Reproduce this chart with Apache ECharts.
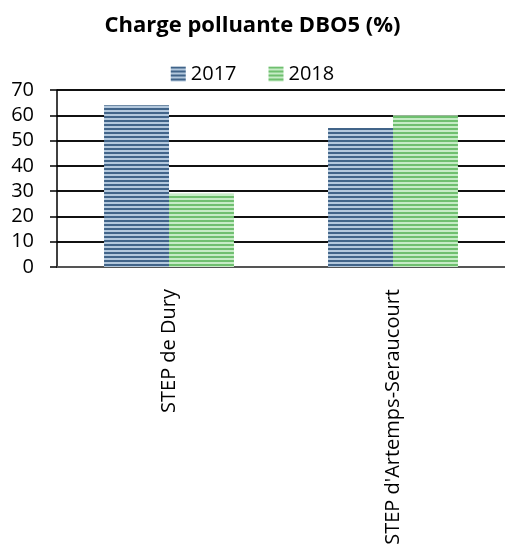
<!DOCTYPE html>
<html>
<head>
<meta charset="utf-8">
<script src="https://cdn.jsdelivr.net/npm/echarts@6/dist/echarts.min.js"></script>
<style>
  html, body { margin: 0; padding: 0; background: #fff; }
  #chart { width: 505px; height: 556px; }
</style>
</head>
<body>
<div id="chart"></div>
<script>
const categories = ['STEP de Dury', "STEP d'Artemps-Seraucourt"];
const seriesNames = ['2017', '2018'];
const values2017 = [64, 55];
const values2018 = [29, 60];
const yTicks = [0, 10, 20, 30, 40, 50, 60, 70];

// Horizontal striped fill used for the bars and legend icons
function stripes(dark, light) {
  const c = document.createElement('canvas');
  c.width = 8; c.height = 4;
  const g = c.getContext('2d');
  g.fillStyle = light; g.fillRect(0, 0, 8, 4);
  g.fillStyle = dark; g.fillRect(0, 0, 8, 2);
  return { image: c, repeat: 'repeat' };
}
const blueFill = stripes('#416489', '#b3c8dd');
const greenFill = stripes('#6fbf6f', '#c6ecc6');

const font = '"Open Sans", "Liberation Sans", sans-serif';
const chart = echarts.init(document.getElementById('chart'), null, { renderer: 'canvas' });
chart.setOption({
  animation: false,
  title: {
    text: 'Charge polluante DBO5 (%)',
    left: 'center', top: 10,
    textStyle: { fontFamily: font, fontWeight: 'bold', fontSize: 22, color: '#000' }
  },
  legend: {
    data: seriesNames,
    top: 59, left: 'center',
    itemWidth: 15, itemHeight: 15, itemGap: 32,
    icon: 'rect',
    textStyle: { fontFamily: font, fontSize: 20, color: '#000' }
  },
  grid: { left: 57, right: 0, top: 90, bottom: 289, containLabel: false },
  xAxis: {
    type: 'category',
    data: categories,
    axisLine: { lineStyle: { color: '#555', width: 2 } },
    axisTick: { show: false },
    axisLabel: { rotate: 90, margin: 22, fontFamily: font, fontSize: 20, color: '#000' }
  },
  yAxis: {
    type: 'value',
    min: 0, max: 70, interval: 10,
    axisLine: { show: true, lineStyle: { color: '#000', width: 1.5 } },
    axisTick: { show: true, length: 7, lineStyle: { color: '#000', width: 1.5 } },
    splitLine: { lineStyle: { color: '#111', width: 2 } },
    axisLabel: {
      margin: 23, fontFamily: font, fontSize: 20, color: '#000',
      formatter: v => yTicks.includes(v) ? String(v) : ''
    }
  },
  series: [
    { name: seriesNames[0], type: 'bar', data: values2017, barGap: '0%', barCategoryGap: '42%',
      itemStyle: { color: blueFill } },
    { name: seriesNames[1], type: 'bar', data: values2018, barGap: '0%', barCategoryGap: '42%',
      itemStyle: { color: greenFill } }
  ]
});
</script>
</body>
</html>
